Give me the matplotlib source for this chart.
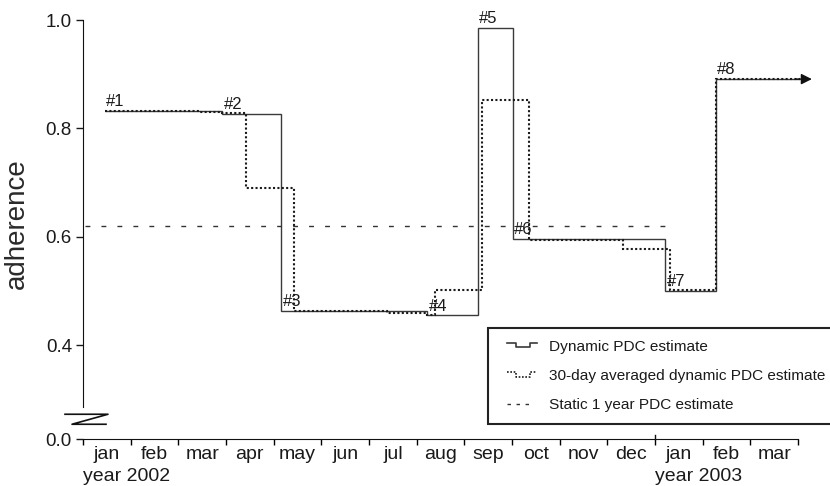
import numpy as np
import matplotlib
matplotlib.use('Agg')
import matplotlib.pyplot as plt
from matplotlib.lines import Line2D
from matplotlib.legend_handler import HandlerBase

plt.rcParams['font.family'] = ['Liberation Sans', 'DejaVu Sans']

# months from jan 2002 (0) to end of mar 2003 (15)
months = ['jan', 'feb', 'mar', 'apr', 'may', 'jun', 'jul', 'aug', 'sep', 'oct', 'nov', 'dec', 'jan', 'feb', 'mar']
years = ['year 2002', 'year 2003']
year_starts = [0, 12]

# dynamic PDC estimate (step edges in months, values)
dyn_edges = [0.46, 2.92, 4.15, 7.22, 8.29, 9.02, 12.21, 13.28, 15.05]
dyn_vals = [0.833, 0.827, 0.463, 0.455, 0.986, 0.596, 0.500, 0.891]

# 30-day averaged dynamic PDC estimate
avg_edges = [0.46, 2.45, 2.92, 3.42, 4.43, 6.38, 7.22, 7.38, 8.36, 9.36, 11.33, 12.31, 13.28, 15.05]
avg_vals = [0.833, 0.830, 0.828, 0.690, 0.463, 0.459, 0.455, 0.502, 0.853, 0.594, 0.578, 0.501, 0.891]

# static 1 year PDC estimate
static_range = [0.05, 12.21]
static_val = 0.620

arrow_end = 15.29

labels = ['#1', '#2', '#3', '#4', '#5', '#6', '#7', '#8']
label_x = [0.48, 2.95, 4.2, 7.25, 8.3, 9.05, 12.25, 13.3]
label_y = [0.833, 0.827, 0.463, 0.455, 0.986, 0.596, 0.500, 0.891]

yticks = [0.4, 0.6, 0.8, 1.0]
ybottom = 0.227

solid_col = '#3a3a3a'
dot_col = '#1a1a1a'
dash_col = '#333333'
txt_col = '#1a1a1a'


class StepIcon(HandlerBase):
    # little step shaped line for the legend
    def create_artists(self, legend, orig_handle, xdescent, ydescent, width, height, fontsize, trans):
        xs = np.array([0.2, 0.42, 0.42, 0.78, 0.78, 0.98]) * width - xdescent
        ys = np.array([0.72, 0.72, 0.3, 0.3, 0.72, 0.72]) * height - ydescent
        ln = Line2D(xs, ys)
        ln.update_from(orig_handle)
        ln.set_transform(trans)
        return [ln]


class FlatIcon(HandlerBase):
    def create_artists(self, legend, orig_handle, xdescent, ydescent, width, height, fontsize, trans):
        xs = np.array([0.2, 0.85]) * width - xdescent
        ys = np.array([0.5, 0.5]) * height - ydescent
        ln = Line2D(xs, ys)
        ln.update_from(orig_handle)
        ln.set_transform(trans)
        return [ln]


fig = plt.figure(figsize=(8.3, 4.86), dpi=100)
ax = fig.add_axes([83/830, 47/486, 747/830, 439/486])
ax.set_xlim(0, 747/47.67)
ax.set_ylim(ybottom, 1.0 + 20/541.7)

ax.plot(static_range, [static_val, static_val], color=dash_col, lw=1.0, linestyle=(0, (3.5, 8)))
ax.stairs(dyn_vals, dyn_edges, baseline=None, color=solid_col, lw=1.0)
ax.stairs(avg_vals, avg_edges, baseline=None, color=dot_col, lw=1.5, linestyle=(0, (1, 1.1)))
ax.annotate('', xy=(arrow_end, dyn_vals[-1]), xytext=(dyn_edges[-1] - 0.1, dyn_vals[-1]),
            arrowprops=dict(arrowstyle='-|>', color='#111111', lw=1.0, shrinkA=0, shrinkB=0,
                            mutation_scale=16))

for t, x, y in zip(labels, label_x, label_y):
    ax.text(x, y + 0.003, t, fontsize=12, color=txt_col, ha='left', va='bottom')

# axes look
for s in ['top', 'right']:
    ax.spines[s].set_visible(False)
ax.spines['left'].set_bounds(0.286, 1.0)
ax.spines['bottom'].set_bounds(0, 15)
ax.spines['left'].set_color('#111111')
ax.spines['bottom'].set_color('#111111')

ax.set_yticks([ybottom] + yticks)
ax.set_yticklabels(['0.0'] + ['%.1f' % v for v in yticks])
ax.tick_params(axis='y', direction='out', length=5, width=1, labelsize=13.5, pad=3, colors=txt_col)

ax.set_xticks(np.arange(16))
ax.set_xticklabels([])
ax.set_xticks(np.arange(15) + 0.5, minor=True)
ax.set_xticklabels(months, minor=True)
ax.tick_params(axis='x', which='major', direction='out', length=4, width=1)
ax.tick_params(axis='x', which='minor', length=0, labelsize=14, pad=5, colors=txt_col)

# year boundary tick pokes up
ax.plot([12, 12], [ybottom, ybottom + 4/541.7], color='#111111', lw=1, clip_on=False)

for yr, x0 in zip(years, year_starts):
    ax.text(x0, -0.066, yr, transform=ax.get_xaxis_transform(), fontsize=14,
            color=txt_col, ha='left', va='top')

# axis break marker
bx = np.array([-18, 25, -11, 23]) / 47.67
by = np.array([414, 414, 424, 424])
ax.plot(bx, 1.0 - (by - 20) / 541.7, color='#111111', lw=1.2, clip_on=False)

fig.text(17/830, 1 - 224/486, 'adherence', rotation=90, fontsize=20, color='#2a2a2a',
         ha='center', va='center')

h_dyn = Line2D([], [], color=solid_col, lw=1.2)
h_avg = Line2D([], [], color=dot_col, lw=1.2, linestyle=(0, (1, 1)))
h_sta = Line2D([], [], color=dash_col, lw=1.0, linestyle=(0, (2.5, 4)))
leg = ax.legend([h_dyn, h_avg, h_sta],
                ['Dynamic PDC estimate', '30-day averaged dynamic PDC estimate', 'Static 1 year PDC estimate'],
                handler_map={h_dyn: StepIcon(), h_avg: StepIcon(), h_sta: FlatIcon()},
                loc='upper left', bbox_to_anchor=(488/830, 1 - 328/486), bbox_transform=fig.transFigure,
                borderaxespad=0, fontsize=11.1, frameon=True, fancybox=False, framealpha=1,
                handlelength=2.5, handletextpad=0.7, labelspacing=1.0, borderpad=0.75)
leg.get_frame().set_edgecolor('#222222')
leg.get_frame().set_linewidth(1.5)
for t in leg.get_texts():
    t.set_color(txt_col)

plt.savefig('out.png', dpi=100)
